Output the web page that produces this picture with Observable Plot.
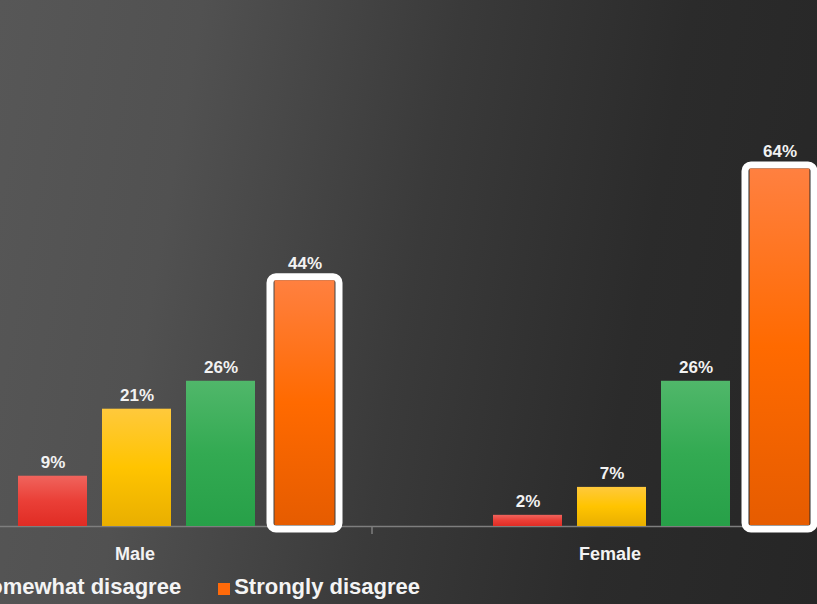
<!DOCTYPE html>
<html>
<head>
<meta charset="utf-8">
<script src="https://cdn.jsdelivr.net/npm/d3@7"></script>
<script src="https://cdn.jsdelivr.net/npm/@observablehq/plot@0.6"></script>
<style>
  html, body { margin: 0; padding: 0; }
  body {
    width: 817px; height: 604px; overflow: hidden; position: relative;
    background: linear-gradient(100deg, #575757 0%, #515151 22%, #3a3a3a 50%, #2b2b2b 75%, #262626 100%);
    font-family: "Liberation Sans", Arial, sans-serif;
  }
  #chart { position: absolute; left: -103px; top: 0; width: 950px; }
  #legend {
    position: absolute; right: 397px; top: 575px;
    display: flex; gap: 37px; white-space: nowrap;
    color: #f4f4f4; font-weight: bold; font-size: 22px; line-height: 24px;
  }
  .item { display: flex; align-items: center; gap: 4px; }
  .sw { width: 12px; height: 12px; position: relative; top: 2px; }
</style>
</head>
<body>
<div id="chart"></div>
<div id="legend"></div>
<script>
// ---- data ----
const categories = ["Male", "Female"];
const series = ["Somewhat agree", "Neither agree nor disagree", "Somewhat disagree", "Strongly disagree"];
const maleValues = [9, 21, 26, 44];
const femaleValues = [2, 7, 26, 64];
const highlightedSeries = "Strongly disagree";
const swatchColors = ["#e8413a", "#fdbf14", "#37aa55", "#ff6a0a"];
const gradientStops = [
  ["#f0645d", "#ea3f37", "#e02c24"],
  ["#ffc93c", "#ffc400", "#e9af00"],
  ["#50b76a", "#33aa52", "#27a048"],
  ["#ff8040", "#ff6a00", "#e65c00"]
];

const valuesByCategory = [maleValues, femaleValues];
const rows = [];
categories.forEach((c, ci) => {
  series.forEach((s, si) => {
    rows.push({category: c, series: s, value: valuesByCategory[ci][si], index: si});
  });
});
const normalRows = rows.filter(d => d.series !== highlightedSeries);
const highRows = rows.filter(d => d.series === highlightedSeries);
const gradFill = d => `url(#bar-grad-${d.index})`;

const chart = Plot.plot({
  width: 950,
  height: 575,
  marginLeft: 0,
  marginRight: 0,
  marginTop: 135,
  marginBottom: 49,
  style: {
    fontSize: "18px",
    fontWeight: "bold",
    fontFamily: "'Liberation Sans', Arial, sans-serif",
    color: "#f3f3f3",
    background: "transparent",
    maxWidth: "none",
    overflow: "visible"
  },
  fx: {domain: categories, padding: 0, axis: "bottom", label: null, tickSize: 0, tickPadding: 21},
  x: {domain: series, axis: null, paddingInner: 0.183, paddingOuter: 0.902, align: 0.787},
  y: {domain: [0, 70], axis: null},
  color: {type: "identity"},
  marks: [
    Plot.ruleY([0], {stroke: "#7e7e7e", strokeWidth: 1.5}),
    Plot.barY(normalRows, {fx: "category", x: "series", y: "value", fill: gradFill}),
    Plot.barY(highRows, {fx: "category", x: "series", y: "value", fill: "none", stroke: "#ffffff",
      strokeWidth: 7, rx: 6, insetTop: -3.5, insetBottom: -3}),
    Plot.barY(highRows, {fx: "category", x: "series", y: "value", fill: gradFill,
      insetLeft: 4.5, insetRight: 4.5, insetBottom: 1}),
    Plot.text(normalRows, {fx: "category", x: "series", y: "value", text: d => d.value + "%",
      lineAnchor: "bottom", dy: -8, fill: "#f2f2f2", fontSize: 17, fontWeight: "bold"}),
    Plot.text(highRows, {fx: "category", x: "series", y: "value", text: d => d.value + "%",
      lineAnchor: "bottom", dy: -12, fill: "#f2f2f2", fontSize: 17, fontWeight: "bold"})
  ]
});

// gradients for bars
const svg = d3.select(chart.tagName.toLowerCase() === "svg" ? chart : chart.querySelector("svg"));
const defs = svg.insert("defs", ":first-child");
gradientStops.forEach((stops, i) => {
  const g = defs.append("linearGradient").attr("id", `bar-grad-${i}`)
    .attr("x1", 0).attr("y1", 0).attr("x2", 0).attr("y2", 1);
  g.append("stop").attr("offset", "0%").attr("stop-color", stops[0]);
  g.append("stop").attr("offset", "50%").attr("stop-color", stops[1]);
  g.append("stop").attr("offset", "100%").attr("stop-color", stops[2]);
});

// separator tick between the two category groups, from the scales
const fxS = chart.scale("fx");
const yS = chart.scale("y");
const boundary = fxS.apply(categories[1]);
const base = yS.apply(0);
svg.append("line").attr("x1", boundary).attr("x2", boundary)
  .attr("y1", base).attr("y2", base + 8)
  .attr("stroke", "#7e7e7e").attr("stroke-width", 1.5);

document.getElementById("chart").appendChild(chart);

// legend
const legend = d3.select("#legend");
series.forEach((s, i) => {
  const item = legend.append("div").attr("class", "item");
  item.append("div").attr("class", "sw").style("background", swatchColors[i]);
  item.append("span").text(s);
});
</script>
</body>
</html>
